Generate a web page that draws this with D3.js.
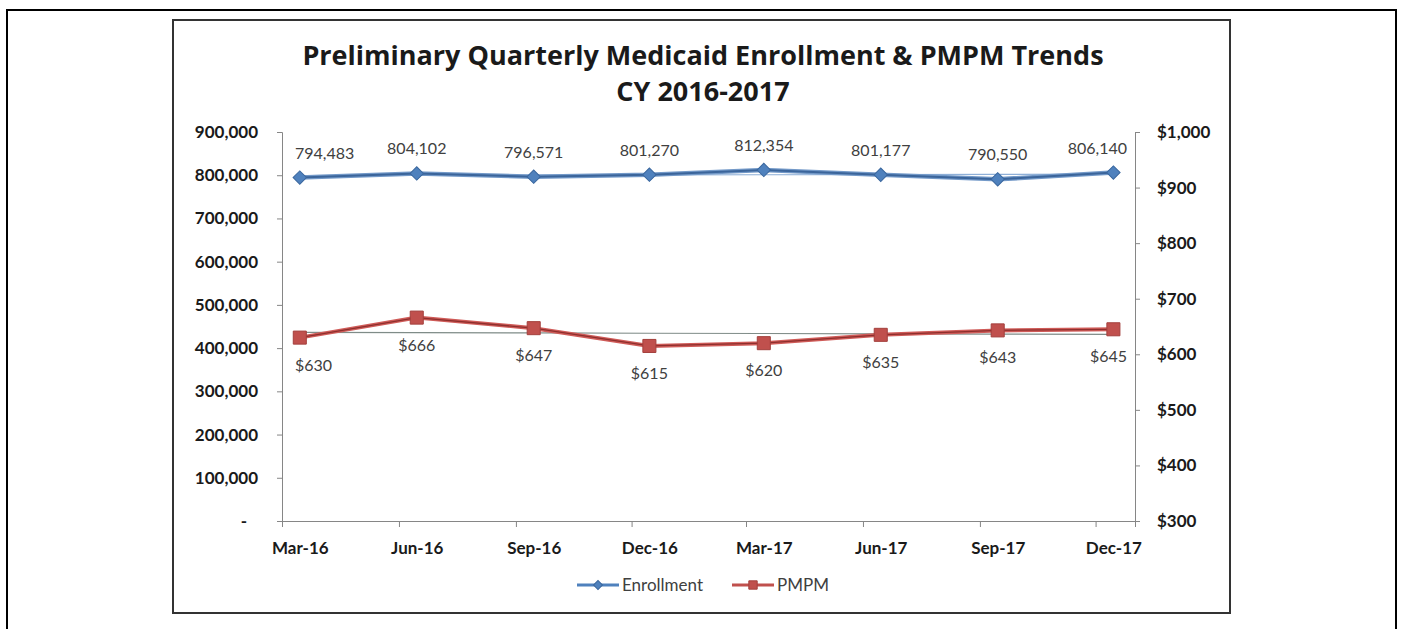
<!DOCTYPE html>
<html lang="en">
<head>
<meta charset="UTF-8">
<title>Medicaid Enrollment & PMPM Trends</title>
<style>
  body { margin: 0; background: #fff; }
  svg { display: block; font-family: Lato, "Open Sans", sans-serif; }
  .axis path, .axis line { stroke: #868686; }
  .axis text { font-family: Lato, "Open Sans", sans-serif; font-weight: bold; fill: #1a1a1a; }
</style>
</head>
<body>
<svg id="chart" width="1402" height="629"></svg>

<script src="https://d3js.org/d3.v7.min.js"></script>
<script>
// chart data
const quarters = ["Mar-16", "Jun-16", "Sep-16", "Dec-16", "Mar-17", "Jun-17", "Sep-17", "Dec-17"];
const enrollment = [794483, 804102, 796571, 801270, 812354, 801177, 790550, 806140];
const pmpm = [630, 666, 647, 615, 620, 635, 643, 645];
const enrollTicks = [0, 100000, 200000, 300000, 400000, 500000, 600000, 700000, 800000, 900000];
const pmpmTicks = [300, 400, 500, 600, 700, 800, 900, 1000];
const titleLines = ["Preliminary Quarterly Medicaid Enrollment & PMPM Trends", "CY 2016-2017"];

const svg = d3.select("#chart");

// frames
svg.append("rect")
  .attr("x", 7).attr("y", 10).attr("width", 1389).attr("height", 640)
  .attr("fill", "none").attr("stroke", "#000").attr("stroke-width", 2);
svg.append("rect")
  .attr("x", 173).attr("y", 20).attr("width", 1057).attr("height", 593)
  .attr("fill", "#fff").attr("stroke", "#333").attr("stroke-width", 2);

// title
svg.append("g").selectAll("text")
  .data(titleLines)
  .join("text")
  .attr("x", 703)
  .attr("y", (d, i) => 65 + i * 36)
  .attr("text-anchor", "middle")
  .attr("font-family", "'Open Sans', Lato, sans-serif")
  .attr("font-size", 27)
  .attr("font-weight", "bold")
  .attr("fill", "#1a1a1a")
  .text(d => d);

// date axis: ticks on month starts, points mid-month
const parseQ = d3.timeParse("%b-%y");
const monthStarts = quarters.map(parseQ);
const pointDates = monthStarts.map(d => d3.timeDay.offset(d, 14));

const x = d3.scaleTime()
  .domain([monthStarts[0], d3.timeMonth.offset(monthStarts[monthStarts.length - 1], 1)])
  .range([282, 1135]);
const yL = d3.scaleLinear().domain([0, 900000]).range([521, 132]);
const yR = d3.scaleLinear().domain([300, 1000]).range([521, 132]);

// axes
const fmtEnroll = d => d === 0 ? "-" : d3.format(",")(d);
const gL = svg.append("g")
  .attr("class", "axis")
  .attr("transform", "translate(282,0)")
  .call(d3.axisLeft(yL).tickValues(enrollTicks).tickFormat(fmtEnroll).tickSize(5).tickPadding(19))
  .attr("font-family", null)
  .attr("font-size", 17);
gL.selectAll(".tick text").filter(d => d === 0).attr("dx", -11);

svg.append("g")
  .attr("class", "axis")
  .attr("transform", "translate(1135,0)")
  .call(d3.axisRight(yR).tickValues(pmpmTicks).tickFormat(d3.format("$,")).tickSize(5).tickPadding(17))
  .attr("font-family", null)
  .attr("font-size", 17);

svg.append("g")
  .attr("class", "axis")
  .attr("transform", "translate(0,521)")
  .call(d3.axisBottom(x).tickValues(monthStarts).tickFormat("").tickSizeOuter(0).tickSize(6));

svg.append("g")
  .attr("class", "axis")
  .attr("transform", "translate(0,521)")
  .call(d3.axisBottom(x).tickValues(pointDates).tickFormat((d, i) => quarters[i]).tickSize(0).tickPadding(21))
  .attr("font-family", null)
  .attr("font-size", 17)
  .call(g => g.select(".domain").remove());

// least-squares trendline helper
function trend(vals) {
  const n = vals.length;
  const mx = (n - 1) / 2, my = d3.mean(vals);
  let sxy = 0, sxx = 0;
  vals.forEach((v, i) => { sxy += (i - mx) * (v - my); sxx += (i - mx) * (i - mx); });
  const b = sxy / sxx;
  return vals.map((v, i) => my + b * (i - mx));
}

const lineL = d3.line().x((d, i) => x(pointDates[i])).y(d => yL(d));
const lineR = d3.line().x((d, i) => x(pointDates[i])).y(d => yR(d));

// trendlines
svg.append("path").datum(trend(pmpm)).attr("d", lineR)
  .attr("fill", "none").attr("stroke", "#7f8c88").attr("stroke-width", 1.2);
svg.append("path").datum(trend(enrollment)).attr("d", lineL)
  .attr("fill", "none").attr("stroke", "#8fb0d8").attr("stroke-width", 1.2);

// enrollment series
svg.append("path").datum(enrollment).attr("d", lineL)
  .attr("fill", "none").attr("stroke", "#7399c8").attr("stroke-width", 4.5);
svg.append("path").datum(enrollment).attr("d", lineL)
  .attr("fill", "none").attr("stroke", "#3b659b").attr("stroke-width", 2);
svg.append("g").selectAll("path")
  .data(enrollment)
  .join("path")
  .attr("d", d3.symbol(d3.symbolSquare, 90))
  .attr("transform", (d, i) => `translate(${x(pointDates[i])},${yL(d)}) rotate(45)`)
  .attr("fill", "#4f81bd").attr("stroke", "#3a679e").attr("stroke-width", 1);

// pmpm series
svg.append("path").datum(pmpm).attr("d", lineR)
  .attr("fill", "none").attr("stroke", "#cf5b58").attr("stroke-width", 4);
svg.append("path").datum(pmpm).attr("d", lineR)
  .attr("fill", "none").attr("stroke", "#8e2f2d").attr("stroke-width", 1.3);
svg.append("g").selectAll("path")
  .data(pmpm)
  .join("path")
  .attr("d", d3.symbol(d3.symbolSquare, 170))
  .attr("transform", (d, i) => `translate(${x(pointDates[i])},${yR(d)})`)
  .attr("fill", "#c0504d").attr("stroke", "#a33f3c").attr("stroke-width", 1);

// data labels, kept inside the plot area at both ends
const plotLeft = x.range()[0] + 13;
const plotRight = x.range()[1] - 8;
function placeLabels(sel) {
  sel.each(function(d, i) {
    const t = d3.select(this);
    let w = this.getBBox().width;
    if (!w) w = this.textContent.length * 8.5;
    const cx = x(pointDates[i]);
    if (cx - w / 2 < plotLeft) t.attr("text-anchor", "start").attr("x", plotLeft);
    else if (cx + w / 2 > plotRight) t.attr("text-anchor", "end").attr("x", plotRight);
  });
}

svg.append("g").selectAll("text")
  .data(enrollment)
  .join("text")
  .attr("x", (d, i) => x(pointDates[i]))
  .attr("y", d => yL(d) - 19)
  .attr("text-anchor", "middle")
  .attr("font-size", 16)
  .attr("fill", "#404040")
  .text(d => d3.format(",")(d))
  .call(placeLabels);

svg.append("g").selectAll("text")
  .data(pmpm)
  .join("text")
  .attr("x", (d, i) => x(pointDates[i]))
  .attr("y", d => yR(d) + 33)
  .attr("text-anchor", "middle")
  .attr("font-size", 16)
  .attr("fill", "#404040")
  .text(d => "$" + d)
  .call(placeLabels);

// legend
const legend = [
  { name: "Enrollment", x0: 577, color: "#4f81bd", dark: "#3a679e", shape: "diamond" },
  { name: "PMPM", x0: 732, color: "#c0504d", dark: "#a33f3c", shape: "square" }
];
const lg = svg.append("g").selectAll("g")
  .data(legend)
  .join("g")
  .attr("transform", d => `translate(${d.x0},585)`);
lg.append("line")
  .attr("x1", 0).attr("x2", 42)
  .attr("stroke", d => d.color).attr("stroke-width", 3);
lg.append("path")
  .attr("d", d => d3.symbol(d3.symbolSquare, d.shape === "diamond" ? 40 : 70)())
  .attr("transform", d => `translate(21,0) rotate(${d.shape === "diamond" ? 45 : 0})`)
  .attr("fill", d => d.color).attr("stroke", d => d.dark);
lg.append("text")
  .attr("x", 45).attr("y", 6)
  .attr("font-size", 17)
  .attr("fill", "#404040")
  .text(d => d.name);
</script>
</body>
</html>
